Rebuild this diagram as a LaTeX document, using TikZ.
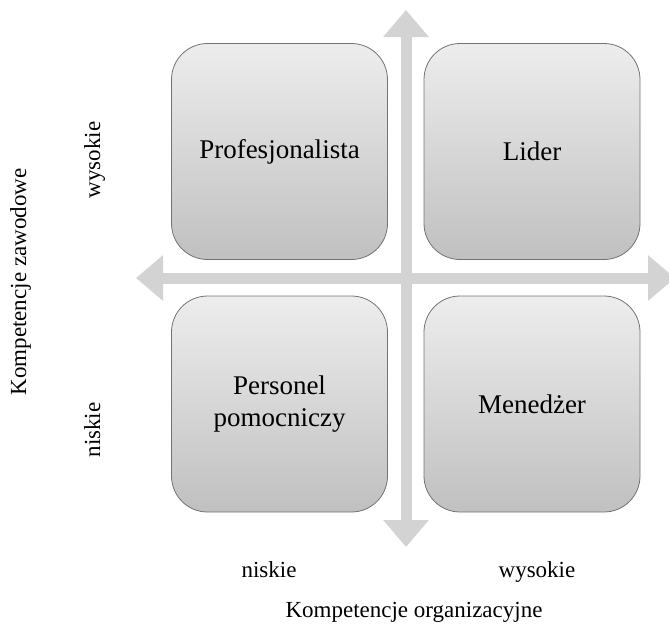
\documentclass[tikz,border=0pt]{standalone}
\usepackage{fontspec}
\setmainfont{Liberation Serif}
\usetikzlibrary{arrows.meta}
\definecolor{axisgray}{HTML}{D3D3D3}
\definecolor{boxtop}{HTML}{EDEDED}
\definecolor{boxbottom}{HTML}{C0C0C0}
\begin{document}
\begin{tikzpicture}[x=1pt,y=-1pt,
    quadrant/.style={draw=black!55,line width=.8pt,rounded corners=36pt,top color=boxtop,bottom color=boxbottom,minimum width=\BW pt,minimum height=\BW pt,align=center,font=\fontsize{27}{32}\selectfont},
    axis/.style={axisgray,line width=11pt,{Triangle[width=44pt,length=27pt]}-{Triangle[width=44pt,length=27pt]}},
    axislabel/.style={font=\fontsize{23}{27}\selectfont}]
    \newcommand{\BW}{216}
    \useasboundingbox(0,0)rectangle(669,627);
    % axes
    \coordinate(top)at(406,10);
    \coordinate(bottom)at(406,547);
    \coordinate(left)at(136,278);
    \coordinate(right)at(675,278);
    \draw[axis](left)--(right);
    \draw[axis](bottom)--(top);
    % quadrants
    \node[quadrant](prof)at(279.5,151.5){Profesjonalista};
    \node[quadrant](lider)at(532,151.5){Lider};
    \node[quadrant](personel)at(279.5,404){Personel\\pomocniczy};
    \node[quadrant](menedzer)at(532,404){Menedżer};
    % horizontal labels
    \node[axislabel,anchor=base](xlow)at(269,577){niskie};
    \node[axislabel,anchor=base](xhigh)at(537,577){wysokie};
    \node[axislabel,anchor=base](xtitle)at(414,617){Kompetencje organizacyjne};
    % vertical labels
    \node[axislabel,rotate=90,anchor=base](ytitle)at(26,282){Kompetencje zawodowe};
    \node[axislabel,rotate=90,anchor=base](yhigh)at(100,160){wysokie};
    \node[axislabel,rotate=90,anchor=base](ylow)at(100,430){niskie};
\end{tikzpicture}
\end{document}
